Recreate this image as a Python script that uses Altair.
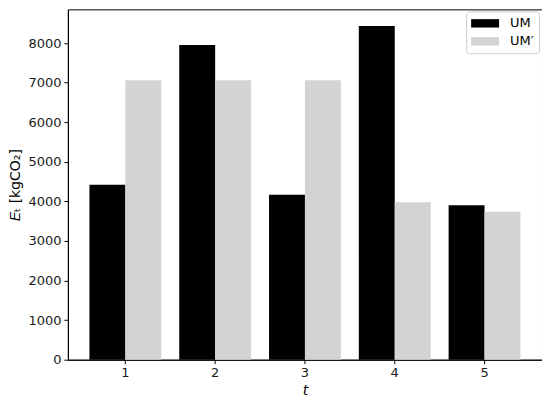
import altair as alt
import pandas as pd

periods = [1, 2, 3, 4, 5]
um = [4420, 7950, 4170, 8430, 3900]
um_prime = [7060, 7060, 7060, 3975, 3735]
series_names = ["UM", "UM\u2032"]

rows = []
for t, a, b in zip(periods, um, um_prime):
    rows.append({"t": t, "series": series_names[0], "E": a})
    rows.append({"t": t, "series": series_names[1], "E": b})
df = pd.DataFrame(rows)

font = "DejaVu Sans"

chart = alt.Chart(df).mark_bar().encode(
    x=alt.X("t:O", title="t",
            scale=alt.Scale(paddingInner=0.2, paddingOuter=0.24),
            axis=alt.Axis(labelAngle=0, titleFontStyle="italic")),
    xOffset=alt.XOffset("series:N", sort=series_names,
                        scale=alt.Scale(paddingInner=0, paddingOuter=0)),
    y=alt.Y("E:Q", title="\U0001D438\u209c [kgCO\u2082]",
            scale=alt.Scale(domain=[0, 8850], nice=False),
            axis=alt.Axis(values=[0, 1000, 2000, 3000, 4000, 5000, 6000, 7000, 8000],
                          format="d")),
    color=alt.Color("series:N", sort=series_names,
                    scale=alt.Scale(domain=series_names, range=["#000000", "#d3d3d3"]),
                    legend=alt.Legend(
                        title=None, orient="none", legendX=399, legendY=2,
                        symbolType="M-2,-0.6L2,-0.6L2,0.6L-2,0.6Z",
                        symbolSize=196, symbolStrokeWidth=0, symbolOpacity=1,
                        symbolOffset=7,
                        labelFont=font, labelFontSize=13, labelColor="black",
                        padding=5, strokeColor="#cccccc", cornerRadius=3,
                        fillColor="white", rowPadding=4, labelOffset=18)),
).properties(
    width=475, height=351,
    autosize=alt.AutoSizeParams(type="none"),
    padding={"left": 60, "top": 1, "right": 0, "bottom": 40},
).configure_view(
    stroke="black", strokeWidth=1
).configure_axis(
    grid=False, domainColor="black", tickColor="black", tickSize=4,
    labelFont=font, labelFontSize=13, labelColor="#1a1a1a",
    titleFont=font, titleFontSize=14, titleFontWeight="normal", titleColor="black",
    labelPadding=3, titlePadding=4
).configure_axisY(titlePadding=5)

chart.save("out.html", embed_options={"renderer": "svg", "actions": False})
